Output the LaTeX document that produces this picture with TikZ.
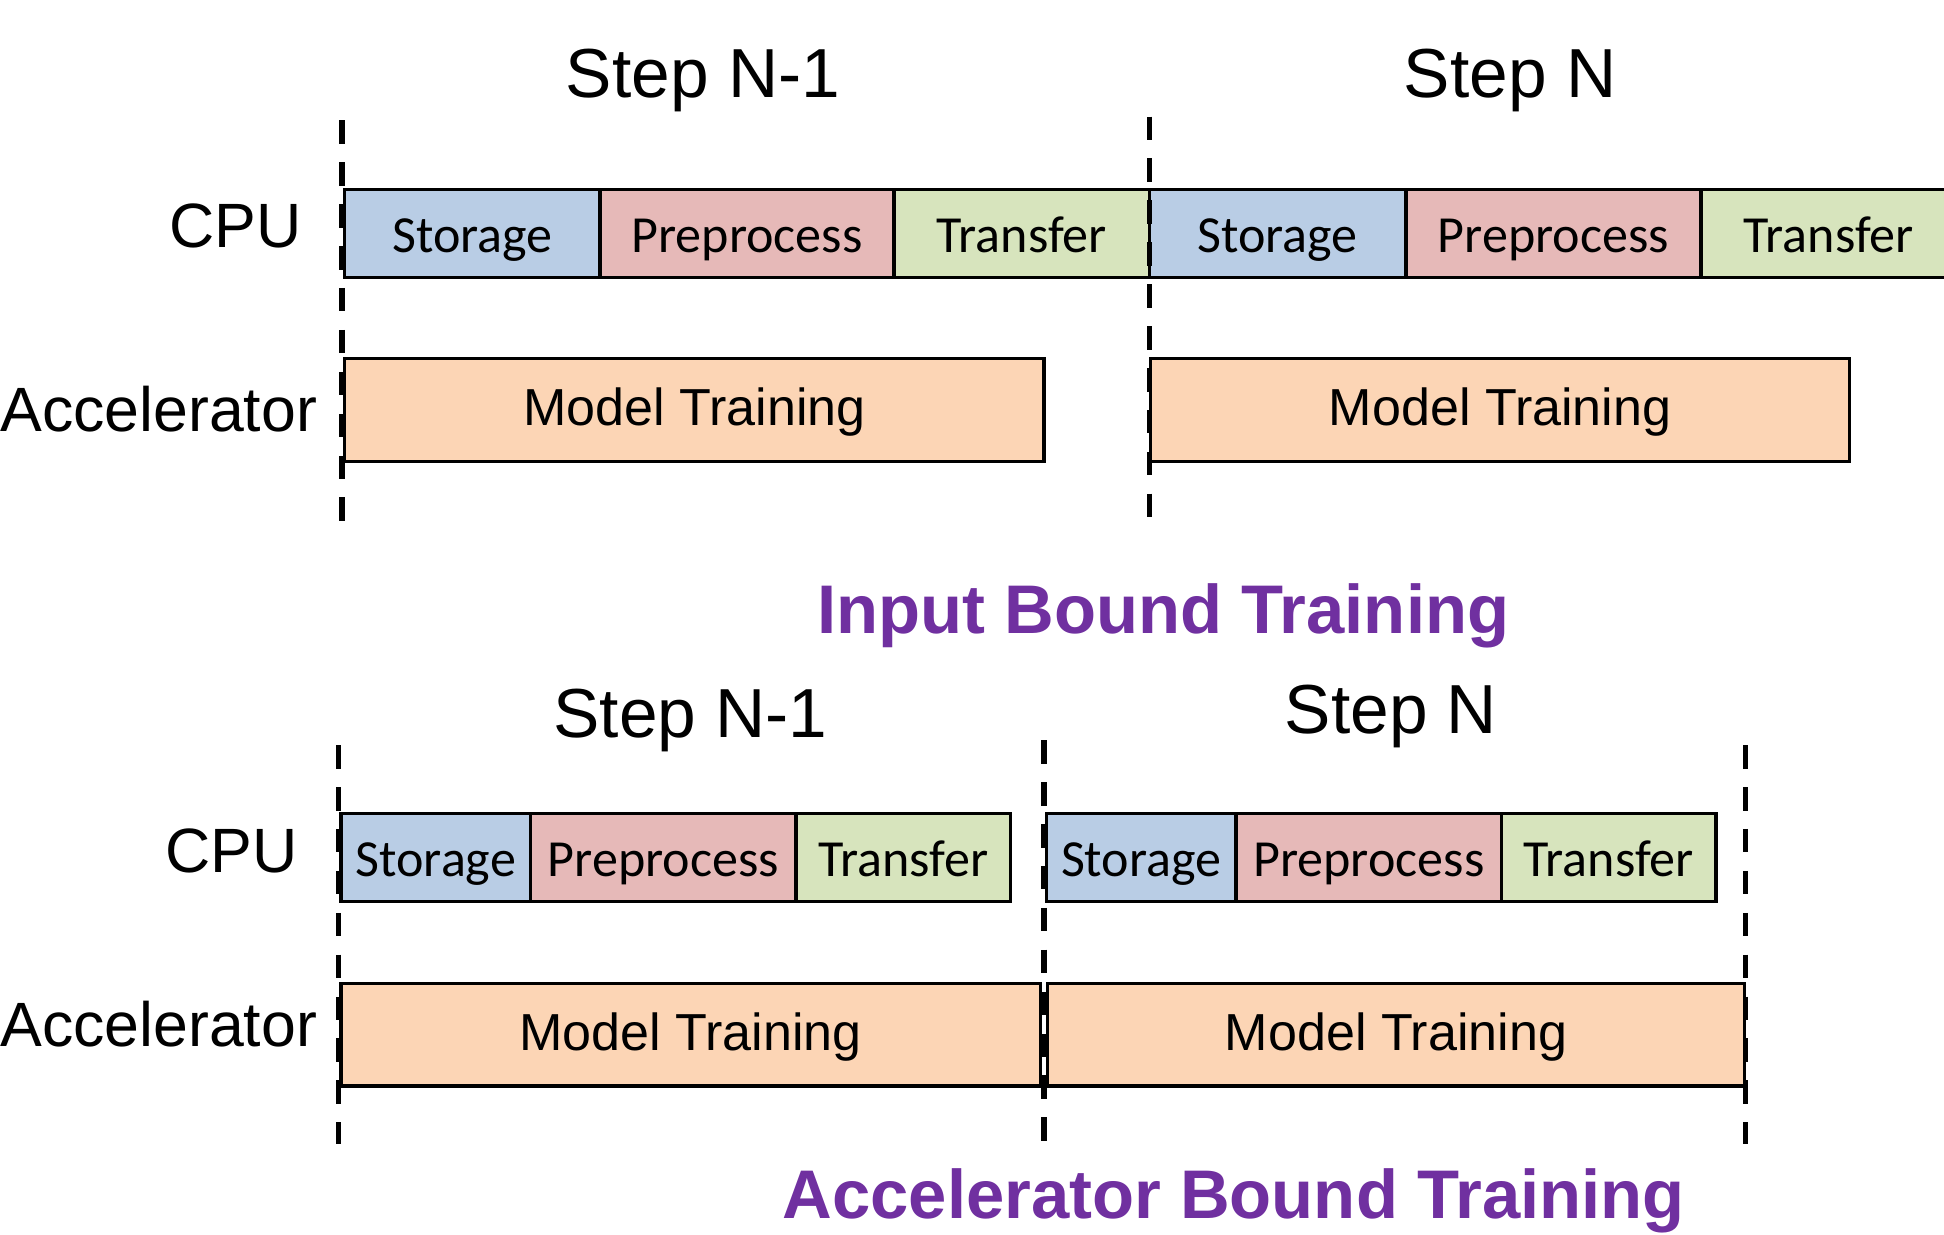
\documentclass[tikz,border=0pt]{standalone}
\usepackage{fontspec}
\setmainfont{Liberation Sans}
\newfontfamily\calibri{Carlito}
\definecolor{storagec}{HTML}{B9CDE5}
\definecolor{prepc}{HTML}{E6B9B8}
\definecolor{transc}{HTML}{D7E4BD}
\definecolor{trainc}{HTML}{FCD5B5}
\definecolor{titlec}{HTML}{7030A0}
\tikzset{
  seg/.style={draw=black, line width=2.6pt, inner sep=0pt, minimum height=71pt,
    font=\calibri\fontsize{42}{42}\selectfont, text height=31pt, text depth=0pt},
  stor/.style={seg, fill=storagec},
  prep/.style={seg, fill=prepc},
  xfer/.style={seg, fill=transc},
  train/.style={draw=black, line width=2.6pt, inner sep=0pt, minimum height=83pt,
    fill=trainc, font=\fontsize{42}{42}\selectfont, text height=26pt, text depth=0pt},
  steplabel/.style={anchor=base, inner sep=0pt, font=\fontsize{56}{56}\selectfont},
  rowlabel/.style={anchor=base, inner sep=0pt, font=\fontsize{50.5}{50.5}\selectfont},
  modetitle/.style={anchor=base west, inner sep=0pt, text=titlec,
    font=\bfseries\fontsize{55.5}{55.5}\selectfont},
  divider/.style={draw=black, line width=4.4pt, dash pattern=on 19pt off 14.8pt}
}
\begin{document}
\begin{tikzpicture}[x=1pt, y=-1pt]
\clip (0,0) rectangle (1568,996);

% ---------- input bound timeline ----------
\node[steplabel] (stepA) at (567,79) {Step N-1};
\node[steplabel] (stepB) at (1218,79) {Step N};
\node[rowlabel] (cpuA) at (190,200) {CPU};
\node[rowlabel] (accA) at (128,348) {Accelerator};

\node[stor, minimum width=206pt] (s1) at (381,188.5) {Storage};
\node[prep, minimum width=237pt] (p1) at (602.5,188.5) {Preprocess};
\node[xfer, minimum width=206pt] (t1) at (824,188.5) {Transfer};
\node[stor, minimum width=207pt] (s2) at (1030.5,188.5) {Storage};
\node[prep, minimum width=238pt] (p2) at (1253,188.5) {Preprocess};
\node[xfer, minimum width=206pt] (t2) at (1475,188.5) {Transfer};

\node[train, minimum width=564pt] (m1) at (560,330.5) {Model Training};
\node[train, minimum width=564pt] (m2) at (1210,330.5) {Model Training};

\coordinate (d1t) at (276,97);  \coordinate (d1b) at (276,420);
\coordinate (d2t) at (927,94);  \coordinate (d2b) at (927,417);
\draw[divider] (d1t) -- (d1b);
\draw[divider] (d2t) -- (d2b);

\node[modetitle] (inputbound) at (659,511) {Input Bound Training};

% ---------- accelerator bound timeline ----------
\node[steplabel] (stepC) at (557,595) {Step N-1};
\node[steplabel] (stepD) at (1122,592) {Step N};
\node[rowlabel] (cpuB) at (187,704) {CPU};
\node[rowlabel] (accB) at (128,844) {Accelerator};

\node[stor, minimum width=153pt] (s3) at (351.5,691.5) {Storage};
\node[prep, minimum width=214pt] (p3) at (535,691.5) {Preprocess};
\node[xfer, minimum width=173pt] (t3) at (728.5,691.5) {Transfer};
\node[stor, minimum width=153pt] (s4) at (920.5,691.5) {Storage};
\node[prep, minimum width=214pt] (p4) at (1104,691.5) {Preprocess};
\node[xfer, minimum width=173pt] (t4) at (1297.5,691.5) {Transfer};

\node[train, minimum width=564pt] (m3) at (557,834.5) {Model Training};
\node[train, minimum width=562pt] (m4) at (1126,834.5) {Model Training};

\coordinate (d3t) at (273,601); \coordinate (d3b) at (273,923);
\coordinate (d4t) at (842,597); \coordinate (d4b) at (842,920);
\coordinate (d5t) at (1408,601); \coordinate (d5b) at (1408,923);
\draw[divider] (d3t) -- (d3b);
\draw[divider] (d4t) -- (d4b);
\draw[divider] (d5t) -- (d5b);

\node[modetitle] (accelbound) at (631,983) {Accelerator Bound Training};
\end{tikzpicture}
\end{document}
